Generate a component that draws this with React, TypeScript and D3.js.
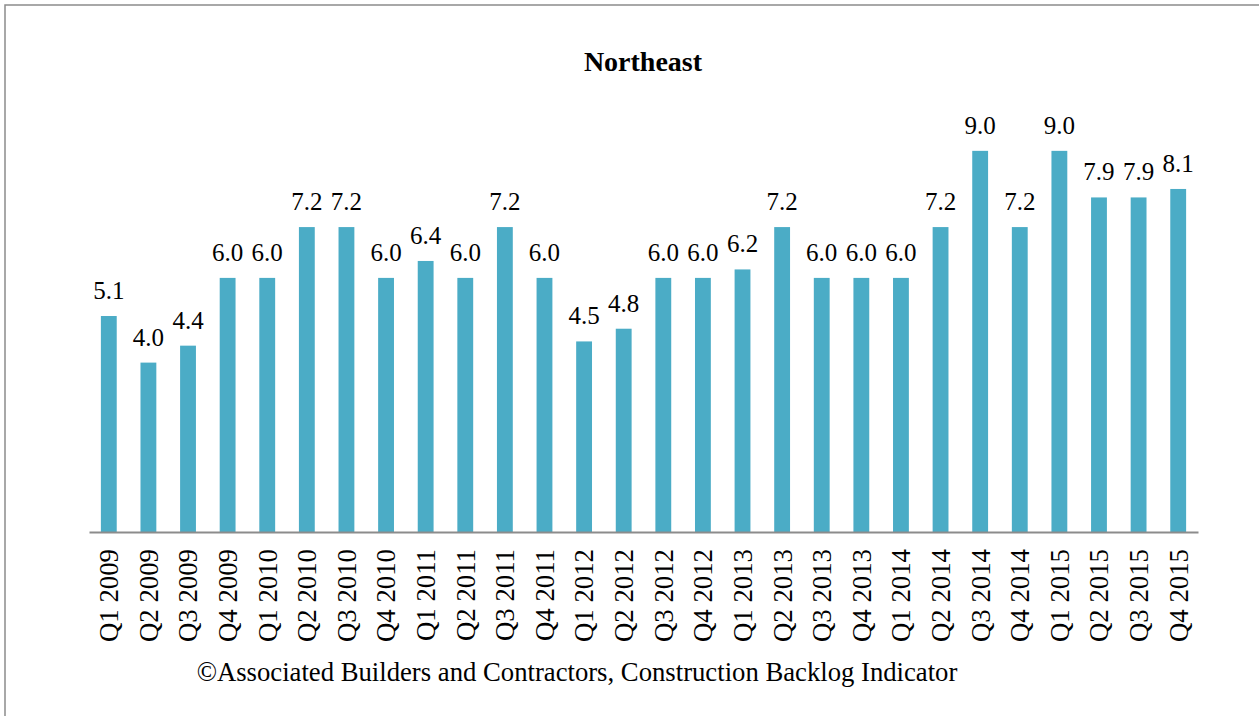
import React, { useEffect, useRef } from 'react';
import * as d3 from 'd3';

const quarters = [
  'Q1 2009', 'Q2 2009', 'Q3 2009', 'Q4 2009',
  'Q1 2010', 'Q2 2010', 'Q3 2010', 'Q4 2010',
  'Q1 2011', 'Q2 2011', 'Q3 2011', 'Q4 2011',
  'Q1 2012', 'Q2 2012', 'Q3 2012', 'Q4 2012',
  'Q1 2013', 'Q2 2013', 'Q3 2013', 'Q4 2013',
  'Q1 2014', 'Q2 2014', 'Q3 2014', 'Q4 2014',
  'Q1 2015', 'Q2 2015', 'Q3 2015', 'Q4 2015',
];

const backlogMonths = [
  5.1, 4.0, 4.4, 6.0,
  6.0, 7.2, 7.2, 6.0,
  6.4, 6.0, 7.2, 6.0,
  4.5, 4.8, 6.0, 6.0,
  6.2, 7.2, 6.0, 6.0,
  6.0, 7.2, 9.0, 7.2,
  9.0, 7.9, 7.9, 8.1,
];

const chartTitle = 'Northeast';
const footerText = '©Associated Builders and Contractors, Construction Backlog Indicator';

const App = () => {
  const svgRef = useRef<SVGSVGElement>(null);

  useEffect(() => {
    const svg = d3.select(svgRef.current);
    svg.selectAll('*').remove();

    const width = 1259;
    const height = 716;
    const font = '"Liberation Serif", "Times New Roman", serif';

    svg.attr('width', width).attr('height', height);

    // frame (only the left and top edges are visible in the crop)
    svg.append('path')
      .attr('d', `M5,${height} L5,5 L${width},5`)
      .attr('fill', 'none')
      .attr('stroke', '#8c8c8c')
      .attr('stroke-width', 1.5);

    const data = quarters.map((q, i) => ({ q, v: backlogMonths[i] }));

    const x = d3.scaleBand()
      .domain(quarters)
      .range([89, 1198])
      .paddingInner(0.6)
      .paddingOuter(0.3);

    const y = d3.scaleLinear()
      .domain([0, 10])
      .range([532, 108.5]);

    svg.append('text')
      .attr('x', 643)
      .attr('y', 71)
      .attr('text-anchor', 'middle')
      .attr('font-family', font)
      .attr('font-weight', 'bold')
      .attr('font-size', 28)
      .text(chartTitle);

    svg.selectAll('.bar')
      .data(data)
      .enter().append('rect')
      .attr('class', 'bar')
      .attr('x', d => x(d.q)!)
      .attr('width', x.bandwidth())
      .attr('y', d => y(d.v))
      .attr('height', d => y(0) - y(d.v))
      .attr('fill', '#4bacc6');

    svg.selectAll('.lbl')
      .data(data)
      .enter().append('text')
      .attr('class', 'lbl')
      .attr('x', d => x(d.q)! + x.bandwidth() / 2)
      .attr('y', d => y(d.v) - 17)
      .attr('text-anchor', 'middle')
      .attr('font-family', font)
      .attr('font-size', 25)
      .text(d => d.v.toFixed(1));

    const axis = svg.append('g')
      .attr('transform', `translate(0,${y(0)})`)
      .call(d3.axisBottom(x).tickSize(0).tickSizeOuter(0));

    axis.select('.domain')
      .attr('stroke', '#8c8c8c')
      .attr('stroke-width', 2);

    axis.selectAll('text')
      .attr('font-family', font)
      .attr('font-size', 26.8)
      .attr('fill', '#000')
      .style('text-anchor', 'end')
      .attr('x', -17)
      .attr('y', 0)
      .attr('dy', '0.35em')
      .attr('transform', 'rotate(-90)');

    svg.append('text')
      .attr('x', 577)
      .attr('y', 681)
      .attr('text-anchor', 'middle')
      .attr('font-family', font)
      .attr('font-size', 26.7)
      .text(footerText);
  }, []);

  return (
    <svg ref={svgRef} style={{ position: 'absolute', left: 0, top: 0, background: '#fff' }}></svg>
  );
};

export default App;
